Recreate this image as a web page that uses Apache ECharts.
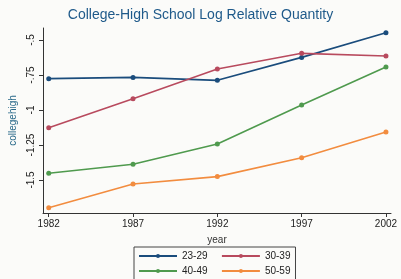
<!DOCTYPE html>
<html>
<head>
<meta charset="utf-8">
<script src="https://cdn.jsdelivr.net/npm/echarts@6/dist/echarts.min.js"></script>
<style>
html,body{margin:0;padding:0;background:#fbfbf9;}
#main{width:401px;height:279px;}
</style>
</head>
<body>
<div id="main"></div>
<script>
// years on the x axis
var years = [1982, 1987, 1992, 1997, 2002];
// log relative quantity by age group
var age2329 = [-0.776, -0.767, -0.788, -0.624, -0.448];
var age3039 = [-1.126, -0.919, -0.707, -0.595, -0.614];
var age4049 = [-1.452, -1.388, -1.243, -0.964, -0.693];
var age5059 = [-1.698, -1.529, -1.476, -1.341, -1.157];
var yTicks = [-1.5, -1.25, -1, -0.75, -0.5];

function pairs(vals) {
    return years.map(function (y, i) { return [y, vals[i]]; });
}

var myChart = echarts.init(document.getElementById('main'));

function lineSeries(name, vals, color) {
    return {
        name: name,
        type: 'line',
        data: pairs(vals),
        symbol: 'circle',
        symbolSize: 5,
        lineStyle: { color: color, width: 1.6 },
        itemStyle: { color: color }
    };
}

var options = {
    backgroundColor: '#fbfbf9',
    animation: false,
    textStyle: { fontFamily: 'Liberation Sans, Arial, sans-serif' },
    title: {
        text: 'College-High School Log Relative Quantity',
        left: 'center',
        top: 8,
        textStyle: { color: '#1f5a8a', fontSize: 14, fontWeight: 'normal' },
        padding: [0, 0, 0, 32]
    },
    grid: { left: 41, right: 10, top: 28, bottom: 66 },
    xAxis: {
        type: 'value',
        min: 1981.66,
        max: 2002.3,
        name: 'year',
        nameLocation: 'middle',
        nameGap: 22,
        nameTextStyle: { color: '#333', fontSize: 10 },
        axisLine: { lineStyle: { color: '#333' } },
        axisTick: { customValues: years, length: 4, lineStyle: { color: '#333' } },
        axisLabel: {
            customValues: years,
            color: '#222',
            fontSize: 10,
            margin: 6,
            formatter: function (v) { return String(v); }
        },
        splitLine: { show: false }
    },
    yAxis: {
        type: 'value',
        min: -1.736,
        max: -0.414,
        name: 'collegehigh',
        nameLocation: 'middle',
        nameGap: 25,
        nameTextStyle: { color: '#2a6a8a', fontSize: 10 },
        axisLine: { show: true, lineStyle: { color: '#333' } },
        axisTick: { show: true, customValues: yTicks, length: 4, lineStyle: { color: '#333' } },
        axisLabel: {
            customValues: yTicks,
            rotate: 90,
            color: '#222',
            fontSize: 10,
            margin: 7,
            formatter: function (v) {
                var s = String(v);
                return s.replace('-0.', '-.');
            }
        },
        splitLine: { show: false }
    },
    legend: {
        left: 134,
        top: 247,
        width: 162,
        orient: 'horizontal',
        borderColor: '#444',
        borderWidth: 1,
        padding: [4, 5, 6, 4],
        itemWidth: 38,
        itemHeight: 5,
        itemGap: 5,
        textStyle: { color: '#222', fontSize: 10 },
        // pad the left column so the right one sits further over
        formatter: function (name) {
            return (name === '23-29' || name === '40-49') ? name + '   ' : name;
        },
        data: ['23-29', '30-39', '40-49', '50-59']
    },
    series: [
        lineSeries('23-29', age2329, '#1a4c7c'),
        lineSeries('30-39', age3039, '#b84a5e'),
        lineSeries('40-49', age4049, '#4f9a4e'),
        lineSeries('50-59', age5059, '#f28c3f')
    ]
};
myChart.setOption(options);
</script>
</body>
</html>
